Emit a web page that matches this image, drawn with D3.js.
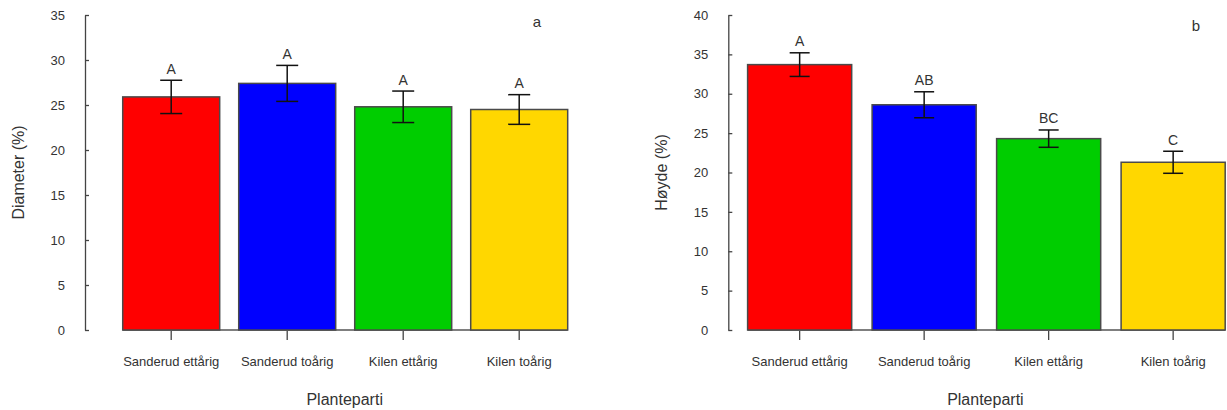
<!DOCTYPE html>
<html>
<head>
<meta charset="utf-8">
<script src="https://cdn.jsdelivr.net/npm/d3@7/dist/d3.min.js"></script>
<style>
  html, body { margin: 0; padding: 0; background: #fff; }
  svg { display: block; font-family: "Liberation Sans", Arial, sans-serif; }
</style>
</head>
<body>
<svg id="chart" width="1227" height="410"></svg>
<script>
const categories = ["Sanderud ettårig", "Sanderud toårig", "Kilen ettårig", "Kilen toårig"];
const barColors = ["#ff0000", "#0000ff", "#00cd00", "#ffd700"];

const diameterMeans = [25.9, 27.4, 24.8, 24.5];
const diameterSE = [1.85, 2.0, 1.75, 1.65];
const diameterLetters = ["A", "A", "A", "A"];
const diameterTicks = [0, 5, 10, 15, 20, 25, 30, 35];

const hoydeMeans = [33.7, 28.6, 24.3, 21.3];
const hoydeSE = [1.5, 1.65, 1.1, 1.4];
const hoydeLetters = ["A", "AB", "BC", "C"];
const hoydeTicks = [0, 5, 10, 15, 20, 25, 30, 35, 40];

const svg = d3.select("#chart");
const textColor = "#333";

function panel(cfg) {
  const x = d3.scaleBand().domain(categories).range(cfg.xRange)
    .paddingInner(0.164).paddingOuter(0.082);
  const y = d3.scaleLinear().domain(cfg.yDomain).range([330, 15]);
  const g = svg.append("g");

  // y axis
  const ya = g.append("g").attr("transform", `translate(${cfg.axisX},0)`)
    .call(d3.axisLeft(y).tickValues(cfg.ticks).tickSizeInner(-4).tickSizeOuter(0).tickPadding(20));
  ya.select(".domain").attr("stroke", "#444").attr("stroke-width", 1.3);
  ya.selectAll(".tick line").attr("stroke", "#444").attr("stroke-width", 1.3);
  ya.selectAll(".tick text").attr("fill", textColor).attr("font-size", 13)
    .attr("font-family", "Liberation Sans, Arial, sans-serif");

  // baseline
  g.append("line")
    .attr("x1", x(categories[0])).attr("x2", x(categories[3]) + x.bandwidth())
    .attr("y1", y(0)).attr("y2", y(0))
    .attr("stroke", "#555").attr("stroke-width", 1.3);

  // bars
  g.selectAll("rect.bar").data(cfg.means).join("rect")
    .attr("class", "bar")
    .attr("x", (d, i) => x(categories[i]))
    .attr("width", x.bandwidth())
    .attr("y", d => y(d))
    .attr("height", d => y(0) - y(d))
    .attr("fill", (d, i) => barColors[i])
    .attr("stroke", "#4a4a4a").attr("stroke-width", 1.5);

  // error bars
  const cx = i => x(categories[i]) + x.bandwidth() / 2;
  const eb = g.selectAll("g.eb").data(cfg.means).join("g").attr("class", "eb");
  eb.append("line")
    .attr("x1", (d, i) => cx(i)).attr("x2", (d, i) => cx(i))
    .attr("y1", (d, i) => y(d + cfg.se[i])).attr("y2", (d, i) => y(d - cfg.se[i]));
  eb.append("line")
    .attr("x1", (d, i) => cx(i) - cfg.cap).attr("x2", (d, i) => cx(i) + cfg.cap)
    .attr("y1", (d, i) => y(d + cfg.se[i])).attr("y2", (d, i) => y(d + cfg.se[i]));
  eb.append("line")
    .attr("x1", (d, i) => cx(i) - cfg.cap).attr("x2", (d, i) => cx(i) + cfg.cap)
    .attr("y1", (d, i) => y(d - cfg.se[i])).attr("y2", (d, i) => y(d - cfg.se[i]));
  eb.selectAll("line").attr("stroke", "#111").attr("stroke-width", 1.5);

  // significance letters
  g.selectAll("text.sig").data(cfg.means).join("text")
    .attr("class", "sig")
    .attr("x", (d, i) => cx(i))
    .attr("y", (d, i) => y(d + cfg.se[i]) - 6.5)
    .attr("text-anchor", "middle")
    .attr("font-size", 14)
    .attr("fill", textColor)
    .text((d, i) => cfg.letters[i]);

  // x axis ticks + labels
  const xa = g.append("g").attr("transform", `translate(0,331)`)
    .call(d3.axisBottom(x).tickSize(9).tickPadding(17));
  xa.select(".domain").remove();
  xa.selectAll(".tick line").attr("stroke", "#444").attr("stroke-width", 1.3);
  xa.selectAll(".tick text").attr("fill", textColor).attr("font-size", 13)
    .attr("font-family", "Liberation Sans, Arial, sans-serif");

  // axis titles
  g.append("text")
    .attr("x", cfg.xTitleX).attr("y", 405)
    .attr("text-anchor", "middle").attr("font-size", 16).attr("fill", textColor)
    .text("Planteparti");
  g.append("text")
    .attr("transform", `translate(${cfg.yTitleX},172.5) rotate(-90)`)
    .attr("text-anchor", "middle").attr("font-size", 16).attr("fill", textColor)
    .text(cfg.yTitle);

  // panel label
  g.append("text")
    .attr("x", cfg.labelX).attr("y", cfg.labelY)
    .attr("text-anchor", "middle").attr("font-size", 15).attr("fill", textColor)
    .text(cfg.label);
}

panel({
  xRange: [113.2, 577.2], yDomain: [0, 35], ticks: diameterTicks, axisX: 85,
  means: diameterMeans, se: diameterSE, letters: diameterLetters, cap: 11,
  xTitleX: 344.7, yTitleX: 23.5, yTitle: "Diameter (%)",
  label: "a", labelX: 537, labelY: 27
});

panel({
  xRange: [737.4, 1235.4], yDomain: [0, 40], ticks: hoydeTicks, axisX: 728.3,
  means: hoydeMeans, se: hoydeSE, letters: hoydeLetters, cap: 10,
  xTitleX: 985.4, yTitleX: 666.5, yTitle: "Høyde (%)",
  label: "b", labelX: 1196, labelY: 31
});
</script>
</body>
</html>
